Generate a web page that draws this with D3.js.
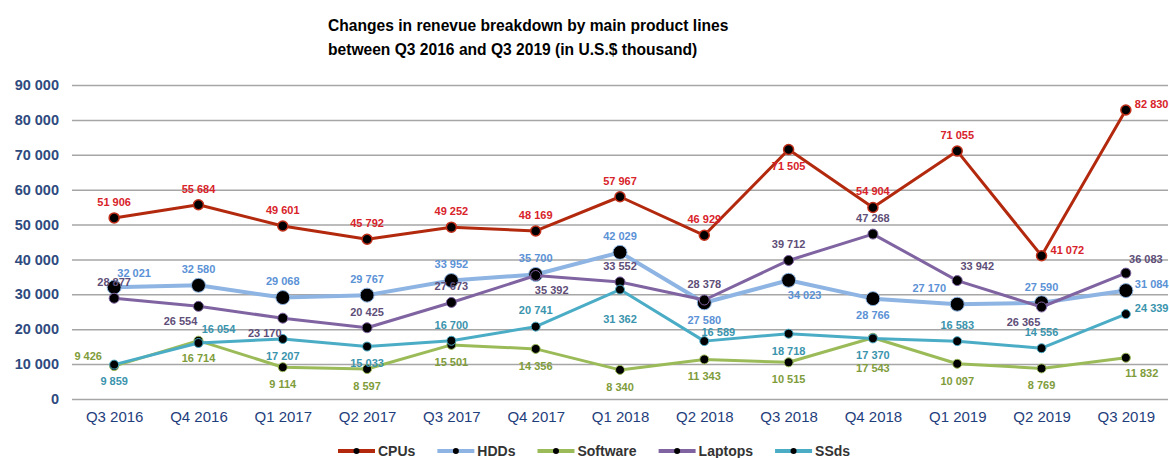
<!DOCTYPE html>
<html>
<head>
<meta charset="utf-8">
<script src="https://cdn.jsdelivr.net/npm/d3@7"></script>
<style>
  body { margin: 0; background: #fff; }
  svg { font-family: "Liberation Sans", Arial, sans-serif; display: block; }
</style>
</head>
<body>
<script>
const quarters = ["Q3 2016", "Q4 2016", "Q1 2017", "Q2 2017", "Q3 2017", "Q4 2017", "Q1 2018",
  "Q2 2018", "Q3 2018", "Q4 2018", "Q1 2019", "Q2 2019", "Q3 2019"];

const cpus = [51906, 55684, 49601, 45792, 49252, 48169, 57967, 46929, 71505, 54904, 71055, 41072, 82830];
const hdds = [32021, 32580, 29068, 29767, 33952, 35700, 42029, 27580, 34023, 28766, 27170, 27590, 31084];
const software = [9426, 16714, 9114, 8597, 15501, 14356, 8340, 11343, 10515, 17543, 10097, 8769, 11832];
const laptops = [28877, 26554, 23170, 20425, 27673, 35392, 33552, 28378, 39712, 47268, 33942, 26365, 36083];
const ssds = [9859, 16054, 17207, 15033, 16700, 20741, 31362, 16589, 18718, 17370, 16583, 14556, 24339];

const yTicks = [0, 10000, 20000, 30000, 40000, 50000, 60000, 70000, 80000, 90000];

// where each data label sits relative to its point
const cpuPos = ["t", "t", "t", "t", "t", "t", "t", "t", "b", "t", "t", "r", "r"];
const hddPos = ["tr", "t", "t", "t", "t", "t", "t", "b", "br", "b", "tl", "t", "r"];
const swPos = ["l", "b", "b", "b", "b", "b", "b", "b", "b", "bb", "b", "b", "br"];
const lapPos = ["t", "bl", "bl", "t", "t", "br", "t", "t", "t", "t", "tr", "bl", "tr"];
const ssdPos = ["b", "tr", "b", "b", "t", "t", "bb", "rt", "b", "b", "t", "t", "r"];

const series = [
  { name: "CPUs", values: cpus, pos: cpuPos, line: "#b3290e", label: "#d8232a", r: 5, stroke: "#c0301a", w: 3 },
  { name: "HDDs", values: hdds, pos: hddPos, line: "#8db4e2", label: "#5b92d6", r: 7, stroke: "#000", w: 4 },
  { name: "Software", values: software, pos: swPos, line: "#9bbb59", label: "#7f9c3b", r: 4.5, stroke: "#000", w: 3 },
  { name: "Laptops", values: laptops, pos: lapPos, line: "#8064a2", label: "#5e4e78", r: 5, stroke: "#000", w: 3 },
  { name: "SSds", values: ssds, pos: ssdPos, line: "#4bacc6", label: "#3a94ad", r: 4.5, stroke: "#000", w: 3 }
];

const offsets = {
  t: [0, -16, "middle"], b: [0, 17, "middle"], bb: [0, 30, "middle"],
  tr: [20, -14, "middle"], tl: [-28, -16, "middle"], rt: [14, -9, "middle"],
  br: [16, 15, "middle"], bl: [-18, 15, "middle"],
  r: [9, -6, "start"], l: [-26, -10, "middle"]
};

const width = 1169;
const height = 458;
const marginLeft = 72;
const marginRight = 1;
const marginTop = 85;
const marginBottom = 59;

const fmt = d3.formatLocale({ decimal: ".", thousands: " ", grouping: [3], currency: ["$", ""] }).format(",");

const svg = d3.select("body").append("svg")
  .attr("width", width)
  .attr("height", height)
  .attr("viewBox", [0, 0, width, height]);

const x = d3.scalePoint()
  .domain(quarters)
  .range([marginLeft, width - marginRight])
  .padding(0.5);

const y = d3.scaleLinear()
  .domain([0, 90000])
  .range([height - marginBottom, marginTop]);

// title
const title = svg.append("text")
  .attr("x", 328)
  .attr("y", 31)
  .attr("font-size", 15.6)
  .attr("font-weight", "bold")
  .attr("fill", "#000");
title.append("tspan").attr("x", 328).text("Changes in renevue breakdown by main product lines");
title.append("tspan").attr("x", 328).attr("dy", 24).text("between Q3 2016 and Q3 2019 (in U.S.$ thousand)");

// y axis with gridlines
svg.append("g")
  .attr("transform", `translate(${marginLeft},0)`)
  .call(d3.axisLeft(y).tickValues(yTicks).tickFormat(d => fmt(d)).tickSize(0).tickPadding(13))
  .call(g => g.select(".domain").remove())
  .call(g => g.selectAll(".tick line").clone()
    .attr("x2", width - marginLeft - marginRight)
    .attr("stroke", "#a6a6a6")
    .attr("stroke-width", 1.5))
  .call(g => g.selectAll(".tick text")
    .attr("font-size", 14.5)
    .attr("font-weight", "bold")
    .attr("fill", "#2e4a7e")
    .attr("font-family", "Liberation Sans, Arial, sans-serif"));

// x axis
svg.append("g")
  .attr("transform", `translate(0,${height - marginBottom})`)
  .call(d3.axisBottom(x).tickSize(0).tickPadding(12))
  .call(g => g.select(".domain").remove())
  .call(g => g.selectAll(".tick text")
    .attr("font-size", 15)
    .attr("fill", "#1f3e7c")
    .attr("font-family", "Liberation Sans, Arial, sans-serif"));

const line = d3.line()
  .x((d, i) => x(quarters[i]))
  .y(d => y(d));

// lines and markers
series.forEach(s => {
  const g = svg.append("g");
  g.append("path")
    .datum(s.values)
    .attr("fill", "none")
    .attr("stroke", s.line)
    .attr("stroke-width", s.w)
    .attr("stroke-linejoin", "round")
    .attr("d", line);
  g.selectAll("circle")
    .data(s.values)
    .join("circle")
    .attr("cx", (d, i) => x(quarters[i]))
    .attr("cy", d => y(d))
    .attr("r", s.r)
    .attr("fill", "#000")
    .attr("stroke", s.name === "CPUs" ? s.stroke : s.line)
    .attr("stroke-width", s.name === "CPUs" ? 1.5 : 1);
});

// data labels
series.forEach(s => {
  svg.append("g")
    .selectAll("text")
    .data(s.values)
    .join("text")
    .attr("x", (d, i) => x(quarters[i]) + offsets[s.pos[i]][0])
    .attr("y", (d, i) => y(d) + offsets[s.pos[i]][1])
    .attr("dy", "0.35em")
    .attr("text-anchor", (d, i) => offsets[s.pos[i]][2])
    .attr("font-size", 11)
    .attr("font-weight", "bold")
    .attr("fill", s.label)
    .text(d => fmt(d));
});

// legend
const legend = svg.append("g").attr("transform", `translate(338,${height - 7})`);
let lx = 0;
series.forEach(s => {
  const item = legend.append("g").attr("transform", `translate(${lx},0)`);
  item.append("line")
    .attr("x1", 0).attr("x2", 37)
    .attr("stroke", s.line)
    .attr("stroke-width", 4);
  item.append("circle")
    .attr("cx", 18.5).attr("r", 3)
    .attr("fill", "#000");
  const t = item.append("text")
    .attr("x", 40)
    .attr("dy", "0.35em")
    .attr("font-size", 14)
    .attr("font-weight", "bold")
    .attr("fill", "#333")
    .text(s.name);
  lx += 40 + t.node().getComputedTextLength() + 22;
});
</script>
</body>
</html>
